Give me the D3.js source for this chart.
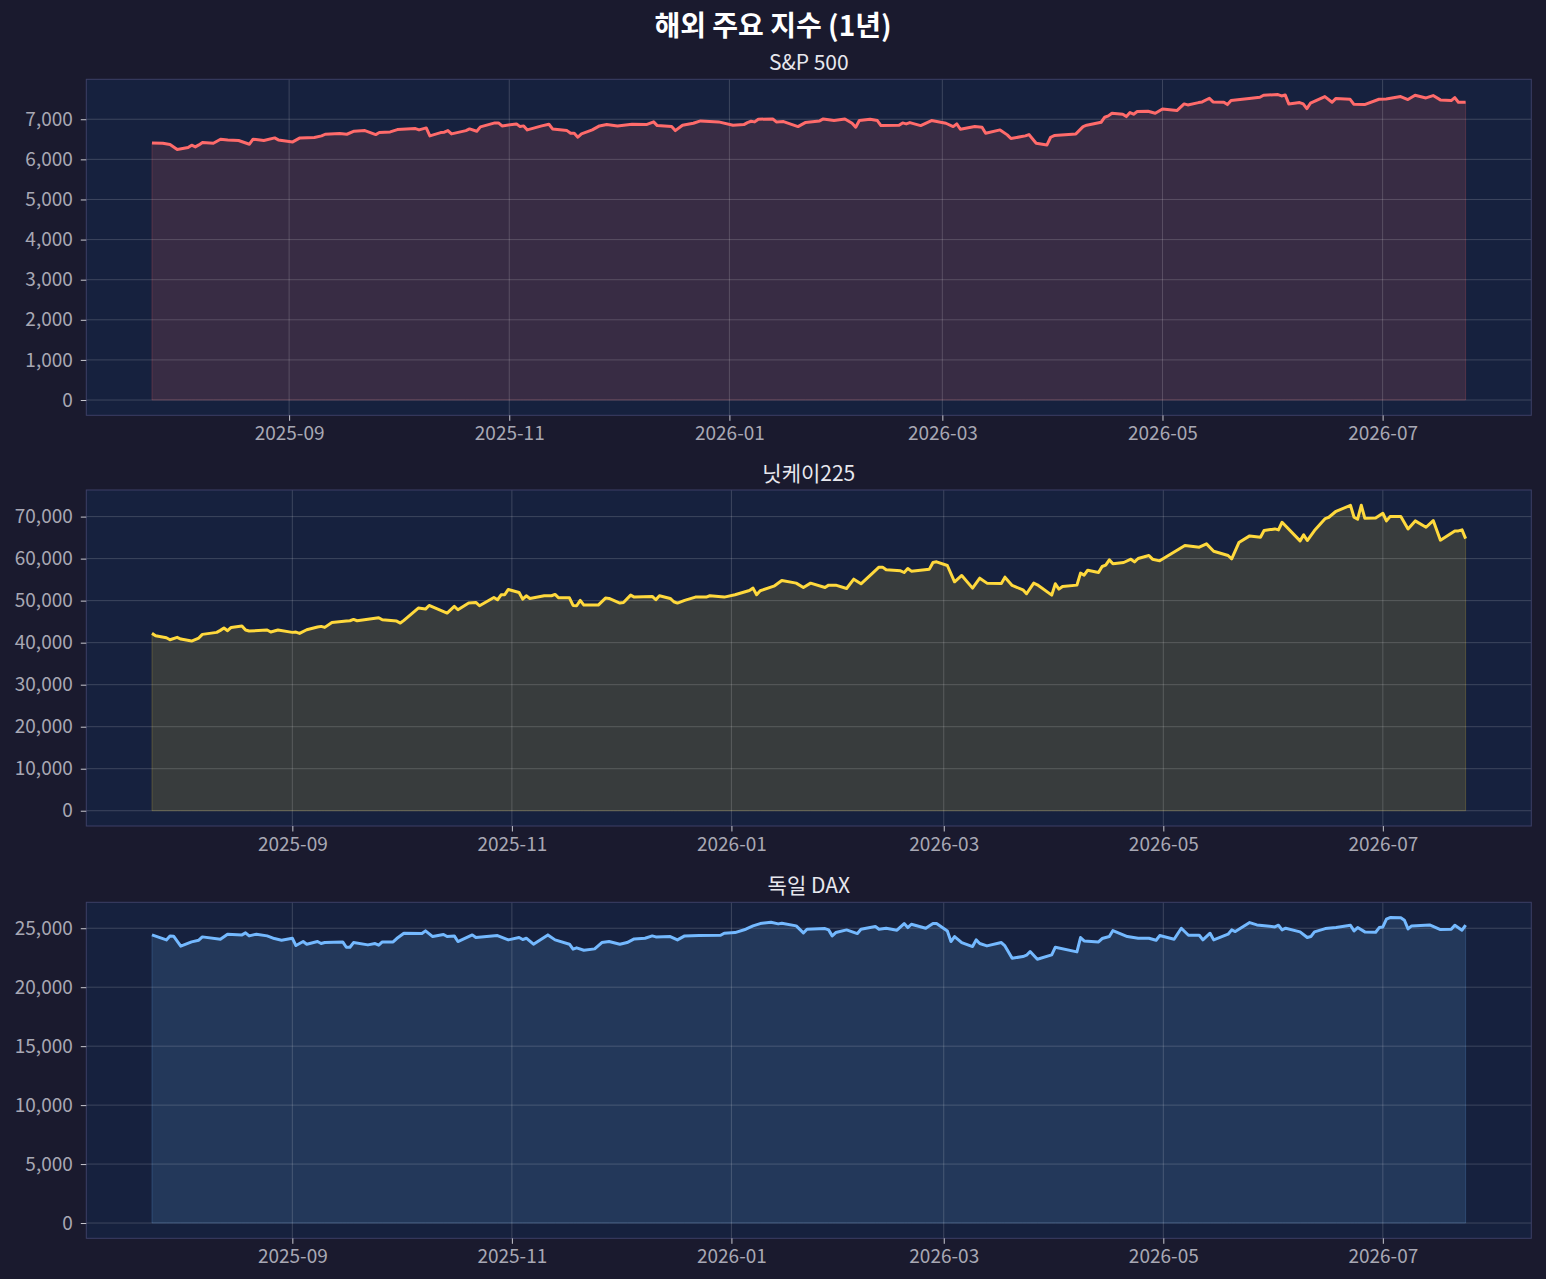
<!DOCTYPE html>
<html>
<head>
<meta charset="utf-8">
<script src="https://cdn.jsdelivr.net/npm/d3@7"></script>
<style>
  body { margin: 0; background: #1a1a2e; }
  text { font-family: 'Noto Sans CJK KR', 'Noto Sans', sans-serif; }
</style>
</head>
<body>
<div id="chart"></div>
<script>
// S&P 500 종가
var spDates = ['2025-07-25','2025-07-28','2025-07-30','2025-08-01','2025-08-04','2025-08-05','2025-08-06','2025-08-07','2025-08-08','2025-08-11',
  '2025-08-13','2025-08-15','2025-08-18','2025-08-21','2025-08-22','2025-08-25','2025-08-28','2025-08-29','2025-09-02','2025-09-04',
  '2025-09-08','2025-09-10','2025-09-11','2025-09-15','2025-09-17','2025-09-19','2025-09-22','2025-09-25','2025-09-26','2025-09-29',
  '2025-10-01','2025-10-06','2025-10-07','2025-10-09','2025-10-10','2025-10-13','2025-10-14','2025-10-15','2025-10-16','2025-10-20',
  '2025-10-21','2025-10-23','2025-10-24','2025-10-28','2025-10-29','2025-10-30','2025-11-03','2025-11-04','2025-11-05','2025-11-06',
  '2025-11-07','2025-11-10','2025-11-12','2025-11-13','2025-11-17','2025-11-18','2025-11-19','2025-11-20','2025-11-21','2025-11-24',
  '2025-11-26','2025-11-28','2025-12-01','2025-12-05','2025-12-09','2025-12-11','2025-12-12','2025-12-16','2025-12-17','2025-12-19',
  '2025-12-22','2025-12-24','2025-12-29','2026-01-02','2026-01-05','2026-01-06','2026-01-07','2026-01-08','2026-01-09','2026-01-13',
  '2026-01-14','2026-01-16','2026-01-20','2026-01-22','2026-01-26','2026-01-27','2026-01-30','2026-02-02','2026-02-04','2026-02-05',
  '2026-02-06','2026-02-09','2026-02-11','2026-02-12','2026-02-17','2026-02-18','2026-02-19','2026-02-20','2026-02-23','2026-02-26',
  '2026-03-02','2026-03-04','2026-03-05','2026-03-06','2026-03-10','2026-03-12','2026-03-13','2026-03-17','2026-03-19','2026-03-20',
  '2026-03-23','2026-03-24','2026-03-25','2026-03-27','2026-03-30','2026-03-31','2026-04-01','2026-04-07','2026-04-09','2026-04-10',
  '2026-04-14','2026-04-15','2026-04-16','2026-04-17','2026-04-20','2026-04-21','2026-04-22','2026-04-23','2026-04-24','2026-04-27',
  '2026-04-29','2026-05-01','2026-05-05','2026-05-07','2026-05-08','2026-05-11','2026-05-12','2026-05-14','2026-05-15','2026-05-18',
  '2026-05-19','2026-05-20','2026-05-25','2026-05-28','2026-05-29','2026-06-02','2026-06-03','2026-06-04','2026-06-05','2026-06-08',
  '2026-06-09','2026-06-10','2026-06-11','2026-06-15','2026-06-17','2026-06-18','2026-06-22','2026-06-23','2026-06-26','2026-06-30',
  '2026-07-02','2026-07-06','2026-07-08','2026-07-10','2026-07-13','2026-07-15','2026-07-17','2026-07-20','2026-07-21','2026-07-22',
  '2026-07-24'];
var spValues = [6410,6402,6369,6244,6294,6352,6311,6360,6419,6402,
  6502,6485,6469,6377,6502,6469,6535,6485,6435,6535,
  6543,6585,6626,6643,6626,6701,6717,6618,6668,6684,
  6742,6767,6734,6784,6585,6668,6676,6717,6635,6717,
  6759,6701,6809,6909,6909,6834,6884,6817,6834,6734,
  6759,6834,6876,6759,6717,6651,6651,6551,6635,6734,
  6834,6867,6834,6876,6867,6934,6842,6817,6717,6851,
  6900,6959,6934,6851,6867,6917,6950,6934,7000,7008,
  6934,6942,6817,6917,6959,7008,6967,7008,6900,6801,
  6967,7000,6967,6842,6851,6909,6884,6917,6842,6967,
  6900,6817,6884,6751,6817,6801,6651,6734,6610,6518,
  6568,6585,6618,6402,6360,6551,6593,6635,6817,6851,
  6925,7050,7083,7150,7125,7066,7166,7125,7191,7199,
  7150,7257,7216,7382,7357,7415,7432,7523,7432,7423,
  7365,7465,7515,7548,7598,7615,7581,7606,7382,7415,
  7382,7266,7399,7565,7423,7515,7498,7374,7365,7498,
  7506,7565,7490,7598,7531,7590,7482,7465,7540,7423,
  7423];

// 닛케이225 종가
var nkDates = ['2025-07-24','2025-07-25','2025-07-28','2025-07-29','2025-07-31','2025-08-01','2025-08-04','2025-08-06','2025-08-07','2025-08-11',
  '2025-08-12','2025-08-13','2025-08-14','2025-08-15','2025-08-18','2025-08-19','2025-08-20','2025-08-25','2025-08-26','2025-08-28',
  '2025-09-01','2025-09-02','2025-09-03','2025-09-05','2025-09-08','2025-09-09','2025-09-10','2025-09-12','2025-09-16','2025-09-17',
  '2025-09-18','2025-09-19','2025-09-25','2025-09-26','2025-09-30','2025-10-01','2025-10-02','2025-10-06','2025-10-08','2025-10-09',
  '2025-10-14','2025-10-16','2025-10-17','2025-10-20','2025-10-22','2025-10-23','2025-10-27','2025-10-28','2025-10-29','2025-10-30',
  '2025-10-31','2025-11-03','2025-11-04','2025-11-05','2025-11-06','2025-11-10','2025-11-12','2025-11-13','2025-11-14','2025-11-17',
  '2025-11-18','2025-11-19','2025-11-20','2025-11-21','2025-11-25','2025-11-27','2025-11-28','2025-12-01','2025-12-02','2025-12-04',
  '2025-12-05','2025-12-10','2025-12-11','2025-12-12','2025-12-15','2025-12-16','2025-12-17','2025-12-19','2025-12-22','2025-12-25',
  '2025-12-26','2025-12-30','2026-01-02','2026-01-06','2026-01-07','2026-01-08','2026-01-09','2026-01-13','2026-01-15','2026-01-19',
  '2026-01-21','2026-01-23','2026-01-27','2026-01-28','2026-01-30','2026-02-02','2026-02-04','2026-02-06','2026-02-09','2026-02-11',
  '2026-02-12','2026-02-13','2026-02-17','2026-02-18','2026-02-19','2026-02-20','2026-02-25','2026-02-26','2026-02-27','2026-03-02',
  '2026-03-04','2026-03-06','2026-03-09','2026-03-11','2026-03-13','2026-03-17','2026-03-18','2026-03-20','2026-03-23','2026-03-24',
  '2026-03-26','2026-03-27','2026-03-31','2026-04-01','2026-04-02','2026-04-03','2026-04-07','2026-04-08','2026-04-09','2026-04-10',
  '2026-04-13','2026-04-14','2026-04-15','2026-04-16','2026-04-17','2026-04-20','2026-04-22','2026-04-23','2026-04-24','2026-04-27',
  '2026-04-28','2026-04-30','2026-05-07','2026-05-11','2026-05-13','2026-05-15','2026-05-19','2026-05-20','2026-05-22','2026-05-25',
  '2026-05-28','2026-05-29','2026-06-01','2026-06-02','2026-06-03','2026-06-08','2026-06-09','2026-06-10','2026-06-12','2026-06-15',
  '2026-06-16','2026-06-18','2026-06-22','2026-06-23','2026-06-24','2026-06-25','2026-06-26','2026-06-29','2026-07-01','2026-07-02',
  '2026-07-03','2026-07-06','2026-07-08','2026-07-10','2026-07-13','2026-07-15','2026-07-17','2026-07-21','2026-07-22','2026-07-23',
  '2026-07-24'];
var nkValues = [42208,41654,41179,40704,41258,40862,40387,41100,41971,42446,
  42921,43475,42842,43634,43950,43000,42763,43000,42525,43000,
  42446,42525,42208,43079,43713,43871,43634,44822,45138,45217,
  45534,45217,45930,45455,45138,44663,45296,48226,47989,48860,
  47039,48622,47831,49415,49573,48781,50761,50207,51395,51395,
  52662,51949,50365,51157,50523,51157,51157,51474,50682,50682,
  48860,48781,50048,48939,48939,50603,50523,49415,49573,51316,
  50840,50998,50207,51157,50523,49732,49415,50048,50840,50840,
  51157,50840,51395,52424,52978,51395,52345,53533,54800,54166,
  53137,54166,53137,53691,53691,52899,55116,54008,56383,57967,
  57967,57333,57096,56700,57650,57017,57492,59076,59234,58363,
  54483,55988,52978,55354,54166,54087,55592,53612,52583,51632,
  54166,53770,51316,54008,52741,53375,53691,56542,56067,57254,
  56700,58125,58442,59709,58759,59076,59868,59234,60026,60738,
  59868,59472,63114,62718,63510,61768,60738,59947,63827,65411,
  65094,66678,67074,66836,68658,64223,65648,64302,66678,69529,
  69846,71271,72697,69846,69371,72697,69608,69687,70796,68975,
  70004,70004,67074,68975,67470,69054,64381,66599,66599,66836,
  64777];

// 독일 DAX 종가
var daxDates = ['2025-07-24','2025-07-28','2025-07-29','2025-07-30','2025-08-01','2025-08-04','2025-08-06','2025-08-07','2025-08-12','2025-08-14',
  '2025-08-18','2025-08-19','2025-08-20','2025-08-22','2025-08-25','2025-08-27','2025-08-29','2025-09-01','2025-09-02','2025-09-04',
  '2025-09-05','2025-09-08','2025-09-09','2025-09-10','2025-09-15','2025-09-16','2025-09-17','2025-09-18','2025-09-22','2025-09-24',
  '2025-09-25','2025-09-26','2025-09-29','2025-09-30','2025-10-02','2025-10-07','2025-10-08','2025-10-10','2025-10-13','2025-10-14',
  '2025-10-16','2025-10-17','2025-10-21','2025-10-22','2025-10-28','2025-10-31','2025-11-03','2025-11-04','2025-11-05','2025-11-07',
  '2025-11-11','2025-11-13','2025-11-17','2025-11-18','2025-11-19','2025-11-21','2025-11-24','2025-11-26','2025-11-28','2025-12-01',
  '2025-12-03','2025-12-05','2025-12-08','2025-12-10','2025-12-11','2025-12-15','2025-12-17','2025-12-19','2025-12-23','2025-12-29',
  '2025-12-30','2026-01-02','2026-01-05','2026-01-07','2026-01-09','2026-01-12','2026-01-14','2026-01-15','2026-01-19','2026-01-21',
  '2026-01-22','2026-01-27','2026-01-28','2026-01-29','2026-01-30','2026-02-02','2026-02-05','2026-02-06','2026-02-10','2026-02-11',
  '2026-02-13','2026-02-16','2026-02-18','2026-02-19','2026-02-20','2026-02-24','2026-02-26','2026-02-27','2026-03-02','2026-03-03',
  '2026-03-04','2026-03-06','2026-03-09','2026-03-10','2026-03-11','2026-03-13','2026-03-17','2026-03-18','2026-03-20','2026-03-23',
  '2026-03-24','2026-03-25','2026-03-27','2026-03-31','2026-04-01','2026-04-07','2026-04-08','2026-04-09','2026-04-13','2026-04-14',
  '2026-04-16','2026-04-17','2026-04-21','2026-04-24','2026-04-27','2026-04-29','2026-04-30','2026-05-04','2026-05-06','2026-05-08',
  '2026-05-11','2026-05-12','2026-05-14','2026-05-15','2026-05-19','2026-05-20','2026-05-21','2026-05-25','2026-05-27','2026-06-01',
  '2026-06-02','2026-06-03','2026-06-04','2026-06-08','2026-06-10','2026-06-11','2026-06-12','2026-06-15','2026-06-18','2026-06-22',
  '2026-06-23','2026-06-24','2026-06-26','2026-06-29','2026-06-30','2026-07-01','2026-07-02','2026-07-03','2026-07-06','2026-07-07',
  '2026-07-08','2026-07-09','2026-07-14','2026-07-17','2026-07-20','2026-07-21','2026-07-23','2026-07-24'];
var daxValues = [24436,24013,24352,24323,23476,23843,23984,24267,24069,24493,
  24436,24606,24352,24493,24352,24126,23984,24154,23532,23871,
  23645,23871,23702,23787,23843,23391,23391,23787,23589,23702,
  23561,23843,23843,24126,24578,24549,24775,24295,24465,24295,
  24352,23871,24436,24211,24380,24013,24211,24041,24154,23645,
  24436,24013,23645,23222,23335,23137,23250,23787,23871,23645,
  23787,24097,24154,24352,24267,24295,24013,24352,24380,24408,
  24578,24634,24916,25199,25397,25510,25369,25425,25199,24606,
  24916,24973,24860,24352,24634,24860,24549,24916,25143,24916,
  25001,24832,25397,25058,25340,25001,25397,25397,24775,23871,
  24295,23787,23448,24013,23702,23504,23787,23504,22459,22600,
  22713,23024,22374,22741,23391,22996,24211,23928,23843,24126,
  24295,24804,24295,24154,24154,23984,24380,24069,25001,24408,
  24408,24013,24578,24013,24493,24860,24719,25482,25284,25114,
  25256,24860,25001,24690,24211,24295,24690,24973,25058,25256,
  24775,25058,24690,24662,25058,25114,25764,25905,25880,25679,
  24945,25199,25284,24888,24916,25256,24832,25256];

// 패널 제목, 색, y축 눈금
var suptitle = '해외 주요 지수 (1년)';
var panelTitles = ['S&P 500', '닛케이225', '독일 DAX'];
var panelColors = ['#ff6b6b', '#ffd93d', '#74b9ff'];
var spTicks = [0, 1000, 2000, 3000, 4000, 5000, 6000, 7000];
var nkTicks = [0, 10000, 20000, 30000, 40000, 50000, 60000, 70000];
var daxTicks = [0, 5000, 10000, 15000, 20000, 25000];

// 전체 크기와 축 영역
var width = 1546;
var height = 1279;
var plotLeft = 86.3;
var plotW = 1445;
var plotH = 336;
var panelTops = [79.3, 490, 902.3];

var bgColor = '#1a1a2e';
var axesColor = '#16213e';
var spineColor = '#3d3f66';
var tickColor = '#a8a8b4';
var tickMarkColor = '#c8c8d0';
var fontSize = 19;

var parseDate = d3.timeParse('%Y-%m-%d');
var numFmt = d3.format(',');

var svg = d3.select('#chart').append('svg')
  .attr('width', width).attr('height', height)
  .style('display', 'block')
  .style('background', bgColor);

svg.append('text')
  .attr('x', width / 2)
  .attr('y', 36)
  .attr('text-anchor', 'middle')
  .attr('fill', '#ffffff')
  .attr('font-size', 28)
  .attr('font-weight', 'bold')
  .text(suptitle);

var panels = [
  {dates: spDates, values: spValues, ticks: spTicks},
  {dates: nkDates, values: nkValues, ticks: nkTicks},
  {dates: daxDates, values: daxValues, ticks: daxTicks}
];

panels.forEach(function(p, i) {
  var data = p.dates.map(function(d, j) {
    return {date: parseDate(d), value: p.values[j]};
  });

  // x: 데이터 범위 + 5% 여백 (matplotlib 기본값과 같게)
  var ext = d3.extent(data, function(d) { return d.date; });
  var span = ext[1] - ext[0];
  var x = d3.scaleTime()
    .domain([new Date(+ext[0] - span * 0.05), new Date(+ext[1] + span * 0.05)])
    .range([0, plotW]);

  var vmax = d3.max(data, function(d) { return d.value; });
  var y = d3.scaleLinear()
    .domain([-vmax * 0.05, vmax * 1.05])
    .range([plotH, 0]);

  var g = svg.append('g')
    .attr('transform', 'translate(' + plotLeft + ',' + panelTops[i] + ')');

  g.append('rect')
    .attr('width', plotW).attr('height', plotH)
    .attr('fill', axesColor);

  // 채우기 영역
  var area = d3.area()
    .x(function(d) { return x(d.date); })
    .y0(y(0))
    .y1(function(d) { return y(d.value); });

  g.append('path')
    .datum(data)
    .attr('d', area)
    .attr('fill', panelColors[i])
    .attr('fill-opacity', 0.15)
    .attr('stroke', panelColors[i])
    .attr('stroke-opacity', 0.2)
    .attr('stroke-width', 1);

  // 격자
  var xTicks = x.ticks(d3.timeMonth.every(2));
  g.append('g').selectAll('line').data(xTicks).enter()
    .append('line')
    .attr('x1', function(d) { return x(d); })
    .attr('x2', function(d) { return x(d); })
    .attr('y1', 0).attr('y2', plotH)
    .attr('stroke', '#ffffff').attr('stroke-opacity', 0.17)
    .attr('stroke-width', 1);

  g.append('g').selectAll('line').data(p.ticks).enter()
    .append('line')
    .attr('x1', 0).attr('x2', plotW)
    .attr('y1', function(d) { return y(d); })
    .attr('y2', function(d) { return y(d); })
    .attr('stroke', '#ffffff').attr('stroke-opacity', 0.17)
    .attr('stroke-width', 1);

  // 선
  var line = d3.line()
    .x(function(d) { return x(d.date); })
    .y(function(d) { return y(d.value); });

  g.append('path')
    .datum(data)
    .attr('d', line)
    .attr('fill', 'none')
    .attr('stroke', panelColors[i])
    .attr('stroke-width', 3)
    .attr('stroke-linejoin', 'round');

  // 테두리
  g.append('rect')
    .attr('width', plotW).attr('height', plotH)
    .attr('fill', 'none')
    .attr('stroke', spineColor)
    .attr('stroke-width', 1);

  // x축
  var xAxis = d3.axisBottom(x)
    .tickValues(xTicks)
    .tickFormat(d3.timeFormat('%Y-%m'))
    .tickSize(5.5)
    .tickPadding(6);

  var xg = g.append('g')
    .attr('transform', 'translate(0,' + plotH + ')')
    .call(xAxis);

  // y축
  var yAxis = d3.axisLeft(y)
    .tickValues(p.ticks)
    .tickFormat(numFmt)
    .tickSize(5.5)
    .tickPadding(8);

  var yg = g.append('g').call(yAxis);

  [xg, yg].forEach(function(ax) {
    ax.select('.domain').remove();
    ax.selectAll('.tick line').attr('stroke', tickMarkColor);
    ax.selectAll('.tick text')
      .attr('fill', tickColor)
      .attr('font-size', fontSize)
      .attr('font-family', "'Noto Sans CJK KR', 'Noto Sans', sans-serif");
  });

  g.append('text')
    .attr('x', plotW / 2)
    .attr('y', -9)
    .attr('text-anchor', 'middle')
    .attr('fill', '#e8e8ee')
    .attr('font-size', 21)
    .text(panelTitles[i]);
});
</script>
</body>
</html>
